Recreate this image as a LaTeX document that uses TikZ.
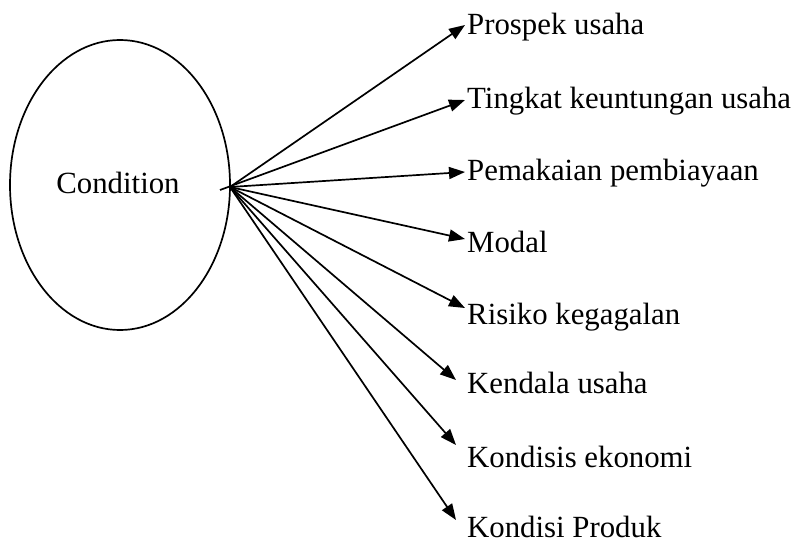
\documentclass[tikz,border=0pt]{standalone}
\usepackage{fontspec}
\setmainfont{Liberation Serif}
\usetikzlibrary{arrows.meta}
\begin{document}
\begin{tikzpicture}[x=1pt,y=-1pt,
  lbl/.style={anchor=base west,inner sep=0pt,font=\fontsize{30.8}{36}\selectfont},
  arr/.style={line width=1.7pt,-{Triangle[length=16pt,width=12pt]}}]
\useasboundingbox (0,0) rectangle (797,543);
\draw[line width=1.7pt] (120,185) ellipse [x radius=110, y radius=145];
\node[lbl,anchor=base] (c) at (118,193) {Condition};
\coordinate (o) at (230,187);
\coordinate (o2) at (220,190);
\coordinate (t1) at (465,25);
\coordinate (t2) at (465,100);
\coordinate (t3) at (465,172);
\coordinate (t4) at (465,239);
\coordinate (t5) at (465,308);
\coordinate (t6) at (456,380);
\coordinate (t7) at (456,445);
\coordinate (t8) at (456,520);
\node[lbl] (l1) at (467,35) {Prospek usaha};
\node[lbl] (l2) at (467,108) {Tingkat keuntungan usaha};
\node[lbl] (l3) at (467,180) {Pemakaian pembiayaan};
\node[lbl] (l4) at (467,252) {Modal};
\node[lbl] (l5) at (467,324) {Risiko kegagalan};
\node[lbl] (l6) at (467,393) {Kendala usaha};
\node[lbl] (l7) at (467,467) {Kondisis ekonomi};
\node[lbl] (l8) at (467,537) {Kondisi Produk};
\draw[arr] (o) -- (t1);
\draw[arr] (o2) -- (t2);
\draw[arr] (o) -- (t3);
\draw[arr] (o) -- (t4);
\draw[arr] (o) -- (t5);
\draw[arr] (o) -- (t6);
\draw[arr] (o) -- (t7);
\draw[arr] (o) -- (t8);
\end{tikzpicture}
\end{document}
